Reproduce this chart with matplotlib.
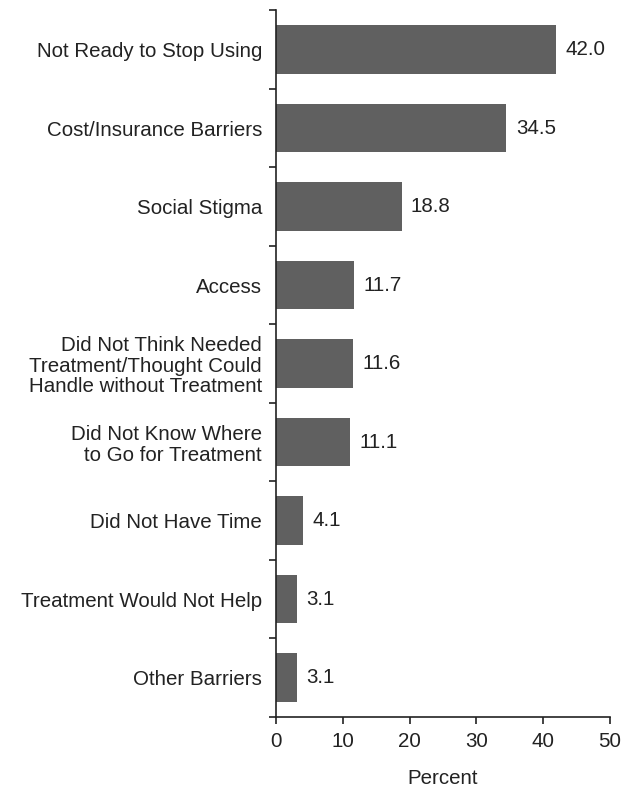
import matplotlib.pyplot as plt
import numpy as np

plt.rcParams['font.family'] = ['Liberation Sans', 'DejaVu Sans']

categories = [
    'Not Ready to Stop Using',
    'Cost/Insurance Barriers',
    'Social Stigma',
    'Access',
    'Did Not Think Needed\nTreatment/Thought Could\nHandle without Treatment',
    'Did Not Know Where\nto Go for Treatment',
    'Did Not Have Time',
    'Treatment Would Not Help',
    'Other Barriers',
]
percent = [42.0, 34.5, 18.8, 11.7, 11.6, 11.1, 4.1, 3.1, 3.1]

fs = 14.8
ink = '#222222'

fig = plt.figure(figsize=(6.23, 7.92), dpi=100)
ax = fig.add_axes([0.443, 0.095, 0.536, 0.892])

y = np.arange(len(categories))
ax.barh(y, percent, height=0.62, color='#606060')
for yi, v in zip(y, percent):
    ax.text(v + 1.4, yi, f'{v:.1f}', va='center', ha='left', fontsize=fs, color=ink)

ax.set_ylim(len(categories) - 0.5, -0.5)
ax.set_xlim(0, 50)
ax.set_xticks([0, 10, 20, 30, 40, 50])
ax.set_yticks(y)
ax.set_yticklabels(categories, fontsize=fs, color=ink, linespacing=1.1)
ax.set_yticks(np.arange(len(categories) + 1) - 0.5, minor=True)
ax.tick_params(axis='y', which='major', length=0, pad=10)
ax.tick_params(axis='y', which='minor', length=5, width=1.2, direction='out', color=ink)
ax.tick_params(axis='x', length=5, width=1.2, direction='out', labelsize=fs,
               labelcolor=ink, color=ink, pad=6)

for side in ['top', 'right']:
    ax.spines[side].set_visible(False)
for side in ['left', 'bottom']:
    ax.spines[side].set_linewidth(1.2)
    ax.spines[side].set_color(ink)

ax.set_xlabel('Percent', fontsize=fs, color=ink, labelpad=13)

fig.savefig('out.png', dpi=100)
